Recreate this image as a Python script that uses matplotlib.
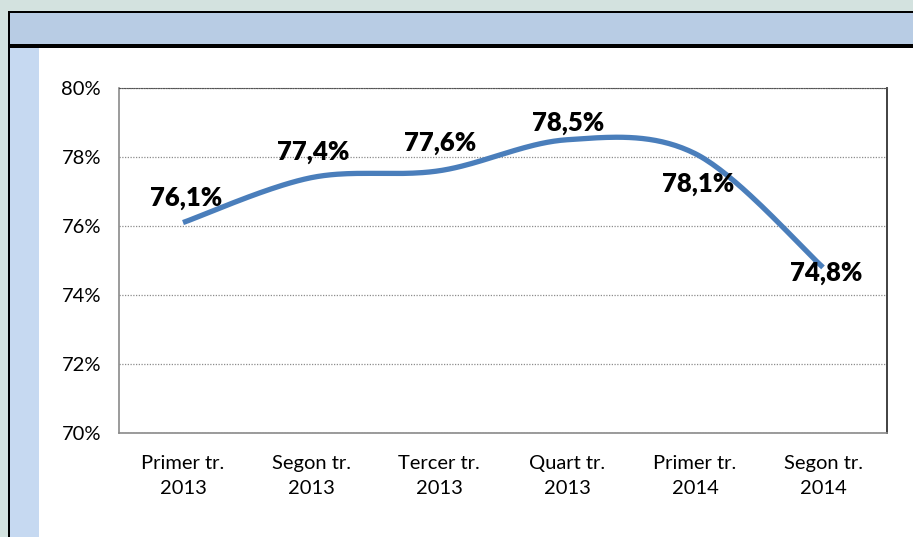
import numpy as np
import matplotlib
matplotlib.use('Agg')
import matplotlib.pyplot as plt
import matplotlib.patches as patches

plt.rcParams['font.family'] = ['Lato', 'DejaVu Sans']

categories = ['Primer tr.\n2013', 'Segon tr.\n2013', 'Tercer tr.\n2013',
              'Quart tr.\n2013', 'Primer tr.\n2014', 'Segon tr.\n2014']
values = [76.1, 77.4, 77.6, 78.5, 78.1, 74.8]
labels = ['76,1%', '77,4%', '77,6%', '78,5%', '78,1%', '74,8%']
# label offsets in pixels (dx, dy)
offsets = [(3, 25), (2, 26), (1, 28), (1, 17), (3, -30), (3, -6)]


def smooth(x, y, n=40):
    # excel style bezier smoothing
    x = np.asarray(x, float)
    y = np.asarray(y, float)
    px = np.concatenate([[x[0]], x, [x[-1]]])
    py = np.concatenate([[y[0]], y, [y[-1]]])
    xs, ys = [], []
    t = np.linspace(0, 1, n)
    for i in range(len(x) - 1):
        p0 = np.array([px[i + 1], py[i + 1]])
        p3 = np.array([px[i + 2], py[i + 2]])
        c1 = p0 + (np.array([px[i + 2], py[i + 2]]) - np.array([px[i], py[i]])) / 6
        c2 = p3 - (np.array([px[i + 3], py[i + 3]]) - np.array([px[i + 1], py[i + 1]])) / 6
        b = ((1 - t) ** 3)[:, None] * p0 + (3 * (1 - t) ** 2 * t)[:, None] * c1 \
            + (3 * (1 - t) * t ** 2)[:, None] * c2 + (t ** 3)[:, None] * p3
        xs.extend(b[:, 0])
        ys.extend(b[:, 1])
    return np.array(xs), np.array(ys)


fig = plt.figure(figsize=(9.13, 5.37), dpi=100)
fig.patch.set_facecolor('#d3e2df')

W, H = 913, 537
def frect(x0, y0, x1, y1, color):
    fig.patches.append(patches.Rectangle((x0 / W, 1 - y1 / H), (x1 - x0) / W, (y1 - y0) / H,
                                         transform=fig.transFigure, facecolor=color,
                                         edgecolor='none', zorder=-5))

frect(8, 11, W + 5, H + 5, 'black')
frect(10, 13, W + 5, 44, '#b8cce4')
frect(10, 48, W + 5, H + 5, 'white')
frect(10, 48, 39, H + 5, '#c6d9f1')

ax = fig.add_axes([119 / W, 1 - 433 / H, 768 / W, 345 / H])
ax.set_zorder(2)
ax.set_facecolor('white')

x = np.arange(len(values))
sx, sy = smooth(x, values)
ax.plot(sx, sy, color='#4a7ebb', lw=3.8, solid_capstyle='butt', zorder=3)

for xi, v, lab, (dx, dy) in zip(x, values, labels, offsets):
    ax.annotate(lab, (xi, v), xytext=(dx, dy), textcoords='offset pixels',
                ha='center', va='center', fontsize=18.5, fontweight='heavy', zorder=4)

ax.set_xlim(-0.5, len(values) - 0.5)
ax.set_ylim(70, 80)
ax.set_yticks([70, 72, 74, 76, 78, 80])
ax.set_yticklabels(['70%', '72%', '74%', '76%', '78%', '80%'])
ax.set_xticks(x)
ax.set_xticklabels(categories, linespacing=1.55)
ax.tick_params(axis='both', length=0, labelsize=14.5, colors='black')
ax.tick_params(axis='y', pad=13)
ax.tick_params(axis='x', pad=16)

ax.yaxis.grid(True, linestyle=(0, (1, 1.2)), color='#8c8c8c', lw=0.9)
for side in ['left', 'bottom']:
    ax.spines[side].set_color('#8a8a8a')
    ax.spines[side].set_linewidth(1.2)
ax.spines['top'].set_linestyle((0, (1, 1.2)))
ax.spines['top'].set_color('#555555')
ax.spines['right'].set_color('#333333')
ax.spines['right'].set_linewidth(1.3)

fig.savefig('out.png', dpi=100, facecolor=fig.get_facecolor())
